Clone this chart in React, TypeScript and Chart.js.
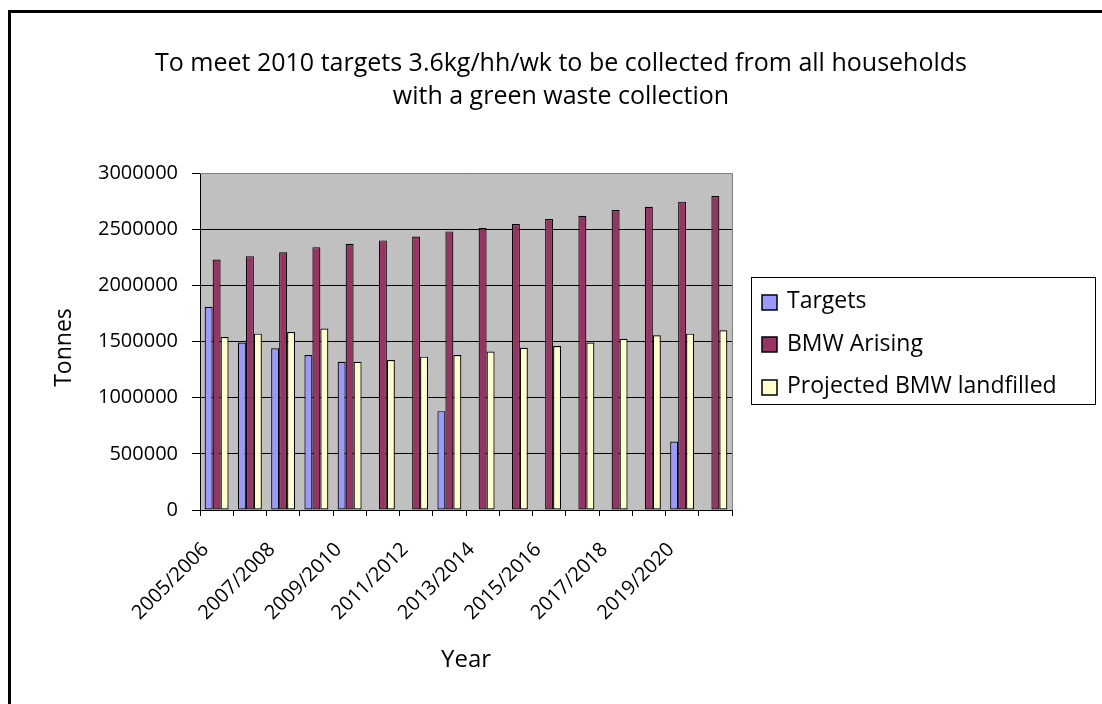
import React, { useEffect, useRef } from "react";
import { Chart, registerables } from "chart.js";

Chart.register(...registerables);

// Financial years on the category axis
const categories = [
  "2005/2006", "2006/2007", "2007/2008", "2008/2009",
  "2009/2010", "2010/2011", "2011/2012", "2012/2013",
  "2013/2014", "2014/2015", "2015/2016", "2016/2017",
  "2017/2018", "2018/2019", "2019/2020", "2020/2021",
];

// Tonnes per year; null where no target is set
const targets = [
  1810000, 1490000, 1440000, 1380000, 1320000, null, null, 880000,
  null, null, null, null, null, null, 610000, null,
];
const bmwArising = [
  2230000, 2260000, 2295000, 2340000, 2370000, 2400000, 2435000, 2480000,
  2510000, 2545000, 2590000, 2620000, 2670000, 2700000, 2745000, 2795000,
];
const projectedLandfilled = [
  1540000, 1570000, 1585000, 1615000, 1320000, 1335000, 1365000, 1380000,
  1410000, 1445000, 1460000, 1490000, 1525000, 1555000, 1570000, 1600000,
];

const seriesLabels = ["Targets", "BMW Arising", "Projected BMW landfilled"];

const titleLines = [
  "To meet 2010 targets 3.6kg/hh/wk to be collected from all households",
  "with a green waste collection",
];
const yAxisTitle = "Tonnes";
const xAxisTitle = "Year";

const yMin = 0;
const yMax = 3000000;
const yStep = 500000;

const FONT = "'Open Sans', Lato, sans-serif";

const decorations = {
  id: "decorations",
  beforeDraw(chart: any) {
    const { ctx, chartArea: a } = chart;
    ctx.save();
    ctx.fillStyle = "#ffffff";
    ctx.fillRect(0, 0, chart.width, chart.height);
    ctx.fillStyle = "#C0C0C0";
    ctx.fillRect(a.left, a.top, a.right - a.left, a.bottom - a.top);
    ctx.restore();
  },
  beforeDatasetsDraw(chart: any) {
    // grey frame along the top and right of the plot area
    const { ctx, chartArea: a } = chart;
    ctx.save();
    ctx.strokeStyle = "#808080";
    ctx.lineWidth = 1;
    ctx.beginPath();
    ctx.moveTo(a.left, Math.round(a.top) + 0.5);
    ctx.lineTo(Math.round(a.right) + 0.5, Math.round(a.top) + 0.5);
    ctx.lineTo(Math.round(a.right) + 0.5, a.bottom);
    ctx.stroke();
    ctx.restore();
  },
  afterDraw(chart: any) {
    const { ctx, chartArea: a } = chart;
    ctx.save();
    ctx.fillStyle = "#000";

    // chart title
    ctx.font = `25px ${FONT}`;
    ctx.textAlign = "center";
    ctx.textBaseline = "alphabetic";
    ctx.fillText(titleLines[0], 561, 71);
    ctx.fillText(titleLines[1], 561, 104);

    // axis titles
    ctx.font = `24px ${FONT}`;
    ctx.fillText(xAxisTitle, (a.left + a.right) / 2, 667);
    ctx.save();
    ctx.font = `23px ${FONT}`;
    ctx.translate(64, (a.top + a.bottom) / 2 + 6);
    ctx.rotate(-Math.PI / 2);
    ctx.textBaseline = "middle";
    ctx.fillText(yAxisTitle, 0, 0);
    ctx.restore();

    // legend
    const box = { x: 751, y: 277, w: 344, h: 127 };
    ctx.strokeStyle = "#000";
    ctx.lineWidth = 1;
    ctx.strokeRect(box.x + 0.5, box.y + 0.5, box.w, box.h);
    ctx.font = `23px ${FONT}`;
    ctx.textAlign = "left";
    ctx.textBaseline = "middle";
    chart.data.datasets.forEach((ds: any, i: number) => {
      const cy = box.y + 24.5 + i * 42.5;
      const sy = Math.round(cy - 7);
      ctx.fillStyle = ds.backgroundColor;
      ctx.fillRect(762, sy, 15, 15);
      ctx.strokeStyle = "#000";
      ctx.lineWidth = 1.5;
      ctx.strokeRect(762, sy, 15, 15);
      ctx.fillStyle = "#000";
      ctx.fillText(ds.label, 787, cy);
    });
    ctx.restore();
  },
};

export default function App() {
  const canvasRef = useRef<HTMLCanvasElement | null>(null);

  useEffect(() => {
    const canvas = canvasRef.current;
    if (!canvas) return;
    const barStyle = { borderColor: "#000000", borderWidth: 1.2, borderSkipped: false as const };
    const chart = new Chart(canvas, {
      type: "bar",
      data: {
        labels: categories,
        datasets: [
          { label: seriesLabels[0], data: targets, backgroundColor: "#9999FF", ...barStyle },
          { label: seriesLabels[1], data: bmwArising, backgroundColor: "#993366", ...barStyle },
          { label: seriesLabels[2], data: projectedLandfilled, backgroundColor: "#FFFFCC", ...barStyle },
        ],
      },
      options: {
        responsive: false,
        animation: false,
        devicePixelRatio: 1,
        layout: { padding: { top: 173, left: 0, right: 370, bottom: 0 } },
        datasets: { bar: { categoryPercentage: 0.72, barPercentage: 1 } },
        plugins: {
          legend: { display: false },
          title: { display: false },
          tooltip: { enabled: false },
        },
        scales: {
          x: {
            afterFit(scale: any) {
              scale.height = 194;
            },
            grid: {
              drawOnChartArea: false,
              drawTicks: true,
              tickLength: 6,
              color: "#000",
              offset: true,
            },
            border: { display: true, color: "#000", width: 1 },
            ticks: {
              autoSkip: false,
              minRotation: 45,
              maxRotation: 45,
              padding: 22,
              labelOffset: -11,
              color: "#000",
              font: { family: FONT, size: 20 },
              callback: (_v: any, i: number) => (i % 2 === 0 ? categories[i] : ""),
            },
          },
          y: {
            min: yMin,
            max: yMax,
            afterFit(scale: any) {
              scale.width = 200;
            },
            grid: {
              color: "#000",
              tickLength: 8,
              drawTicks: true,
            },
            border: { display: true, color: "#000", width: 1 },
            ticks: {
              stepSize: yStep,
              padding: 14,
              color: "#000",
              font: { family: FONT, size: 20 },
              callback: (v: any) => String(v),
            },
          },
        },
      },
      plugins: [decorations],
    });
    return () => chart.destroy();
  }, []);

  return (
    <div style={{ position: "absolute", left: 0, top: 0, width: 1102, height: 704, overflow: "hidden" }}>
      <canvas ref={canvasRef} width={1102} height={704} style={{ display: "block", width: 1102, height: 704 }} />
      <div
        style={{
          position: "absolute",
          left: 8,
          top: 10,
          width: 1094,
          height: 694,
          boxSizing: "border-box",
          borderLeft: "3px solid #000",
          borderTop: "3px solid #000",
          pointerEvents: "none",
        }}
      />
    </div>
  );
}
